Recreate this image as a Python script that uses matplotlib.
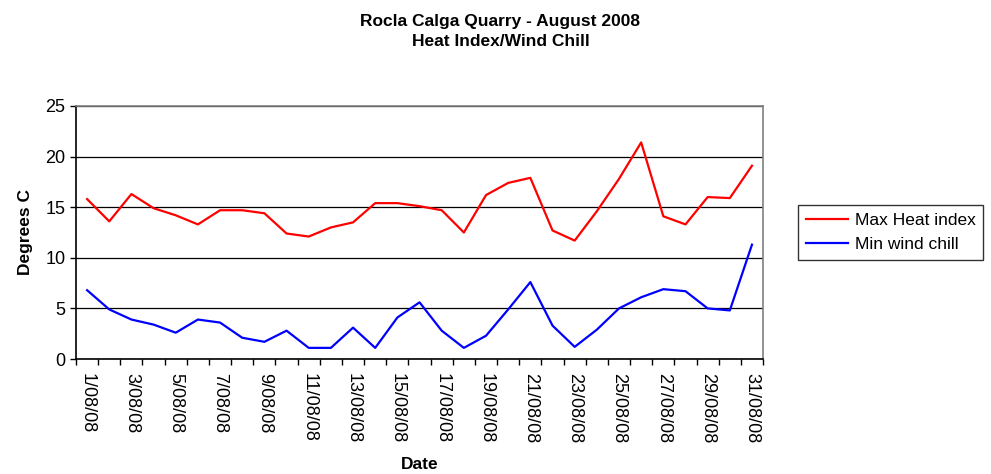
import numpy as np
import matplotlib
matplotlib.use('Agg')
import matplotlib.pyplot as plt

plt.rcParams['font.family'] = ['Liberation Sans', 'DejaVu Sans']

# one value per day, 1..31 August 2008
days = [f'{d}/08/08' for d in range(1, 32)]
max_heat = [15.8, 13.6, 16.3, 14.9, 14.2, 13.3, 14.7, 14.7, 14.4, 12.4,
            12.1, 13.0, 13.5, 15.4, 15.4, 15.1, 14.7, 12.5, 16.2, 17.4,
            17.9, 12.7, 11.7, 14.6, 17.8, 21.4, 14.1, 13.3, 16.0, 15.9, 19.1]
min_chill = [6.8, 4.9, 3.9, 3.4, 2.6, 3.9, 3.6, 2.1, 1.7, 2.8,
             1.1, 1.1, 3.1, 1.1, 4.1, 5.6, 2.8, 1.1, 2.3, 4.9,
             7.6, 3.3, 1.2, 2.9, 5.0, 6.1, 6.9, 6.7, 5.0, 4.8, 11.3]

fig = plt.figure(figsize=(9.91, 4.74), dpi=100)
ax = fig.add_axes([0.0767, 0.2426, 0.6933, 0.5338])

x = np.arange(len(days))
ax.plot(x, max_heat, color='#ff0000', lw=1.6, label='Max Heat index')
ax.plot(x, min_chill, color='#0000ff', lw=1.6, label='Min wind chill')

ax.set_xlim(-0.5, len(days) - 0.5)
ax.set_ylim(0, 25)
ax.set_yticks([0, 5, 10, 15, 20, 25])
ax.grid(axis='y', color='black', lw=0.9)
ax.set_axisbelow(True)

# ticks at category boundaries, labels on every second day
ax.set_xticks(np.arange(-0.5, len(days)), minor=True)
ax.set_xticks(x[::2])
ax.set_xticklabels(days[::2], rotation=-90, va='top', ha='center', fontsize=13)
ax.tick_params(axis='x', which='major', length=0, pad=10)
ax.tick_params(axis='x', which='minor', length=4, direction='out', width=1)
ax.tick_params(axis='y', length=4, direction='out', labelsize=13, width=1)

for s in ['top', 'right']:
    ax.spines[s].set_color('#808080')
    ax.spines[s].set_linewidth(1.2)
for s in ['left', 'bottom']:
    ax.spines[s].set_color('black')
    ax.spines[s].set_linewidth(1.2)

ax.set_ylabel('Degrees C', fontsize=12.5, fontweight='bold', labelpad=9)
ax.set_xlabel('Date', fontsize=12.5, fontweight='bold', labelpad=10)

fig.text(0.505, 0.97, 'Rocla Calga Quarry - August 2008\nHeat Index/Wind Chill',
         ha='center', va='top', fontsize=12.5, fontweight='bold', linespacing=1.4)

leg = ax.legend(loc='center left', bbox_to_anchor=(1.051, 0.5), fontsize=12.5,
                frameon=True, fancybox=False, edgecolor='black',
                handlelength=2.4, handletextpad=0.4, borderpad=0.45,
                labelspacing=0.55, borderaxespad=0)
leg.get_frame().set_linewidth(1.0)

fig.savefig('out.png', dpi=100)
